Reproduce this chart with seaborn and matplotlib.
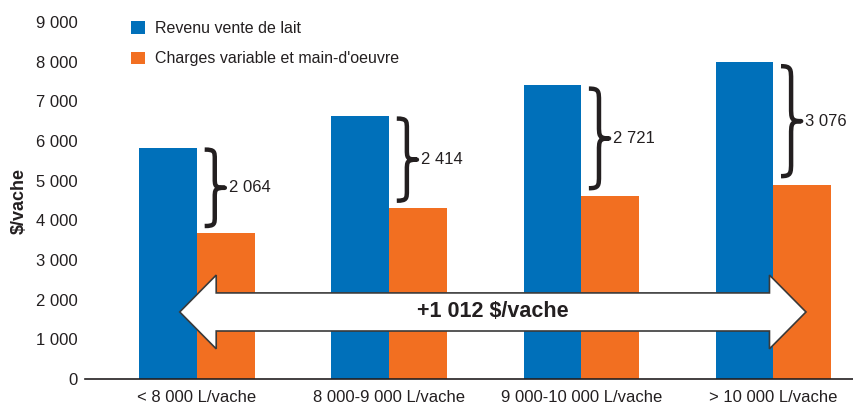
import matplotlib
matplotlib.use("Agg")
import matplotlib.pyplot as plt
import seaborn as sns
import pandas as pd
from matplotlib.path import Path
from matplotlib.patches import PathPatch, Polygon, Patch

categories = ["< 8 000 L/vache", "8 000-9 000 L/vache", "9 000-10 000 L/vache", "> 10 000 L/vache"]
revenu = [5830, 6620, 7400, 7980]
charges = [3690, 4320, 4610, 4900]
ecarts = ["2 064", "2 414", "2 721", "3 076"]
series = ["Revenu vente de lait", "Charges variable et main-d'oeuvre"]
yticks = [0, 1000, 2000, 3000, 4000, 5000, 6000, 7000, 8000, 9000]
ytick_labels = ["0", "1 000", "2 000", "3 000", "4 000", "5 000", "6 000", "7 000", "8 000", "9 000"]
arrow_label = "+1 012 $/vache"

BLUE = "#0070BA"
ORANGE = "#F26F21"
DARK = "#231F20"

sns.set_theme(style="white")
plt.rcParams["font.family"] = ["Liberation Sans Narrow", "Liberation Sans", "DejaVu Sans"]

df = pd.DataFrame({
    "cat": categories * 2,
    "val": revenu + charges,
    "serie": [series[0]] * 4 + [series[1]] * 4,
})

fig = plt.figure(figsize=(8.54, 4.05), dpi=100)
ax = fig.add_axes([85 / 854, 1 - 379 / 405, (854 - 85) / 854, (379 - 22) / 405])
sns.barplot(data=df, x="cat", y="val", hue="serie", palette=[BLUE, ORANGE],
            width=0.6, saturation=1, ax=ax, legend=False, errorbar=None,
            linewidth=0, edgecolor="none")

ax.set_xlim(-0.583, 3.42)
ax.set_ylim(0, 9000)
ax.set_yticks(yticks)
ax.set_yticklabels(ytick_labels, fontsize=12, color="#231F20")
ax.tick_params(axis="x", labelsize=12, colors="#231F20", length=0, pad=8)
ax.tick_params(axis="y", length=0, pad=5)
ax.set_xlabel("")
ax.set_ylabel("$/vache", fontsize=13, fontweight="bold", color="#231F20", labelpad=6)
for s in ["top", "right", "left"]:
    ax.spines[s].set_visible(False)
ax.spines["bottom"].set_color("#231F20")
ax.spines["bottom"].set_linewidth(1.2)


def brace(ax, x0, width, y0, y1, lw=3.2):
    xm = x0 + width * 0.5
    xr = x0 + width
    ym = (y0 + y1) / 2
    r = (y1 - y0) * 0.13
    verts = [
        (x0, y1),
        (xm, y1), (xm, y1 - r * 0.2), (xm, y1 - r),
        (xm, ym + r),
        (xm, ym + r * 0.2), (xm, ym), (xr, ym),
        (xm, ym), (xm, ym - r * 0.2), (xm, ym - r),
        (xm, y0 + r),
        (xm, y0 + r * 0.2), (xm, y0), (x0, y0),
    ]
    codes = [Path.MOVETO,
             Path.CURVE4, Path.CURVE4, Path.CURVE4,
             Path.LINETO,
             Path.CURVE4, Path.CURVE4, Path.CURVE4,
             Path.CURVE4, Path.CURVE4, Path.CURVE4,
             Path.LINETO,
             Path.CURVE4, Path.CURVE4, Path.CURVE4]
    ax.add_patch(PathPatch(Path(verts, codes), fill=False, lw=lw, color=DARK,
                           capstyle="butt", joinstyle="round", zorder=5))


for i, (rv, ch, lab) in enumerate(zip(revenu, charges, ecarts)):
    diff = rv - ch
    mid = (rv + ch) / 2 + 60
    h = diff * 0.9
    brace(ax, i + 0.04, 0.105, mid - h / 2, mid + h / 2)
    ax.text(i + 0.165, mid, lab, fontsize=12, color=DARK, va="center", ha="left")

# double-headed arrow
yc, sh, hh = 1690, 480, 930
xl, xlb, xrb, xr = -0.09, 0.10, 2.98, 3.17
arrow = Polygon([
    (xl, yc), (xlb, yc + hh), (xlb, yc + sh), (xrb, yc + sh), (xrb, yc + hh),
    (xr, yc), (xrb, yc - hh), (xrb, yc - sh), (xlb, yc - sh), (xlb, yc - hh)],
    closed=True, facecolor="white", edgecolor="#3a3a3a", lw=1.2, zorder=6)
ax.add_patch(arrow)
ax.text(1.54, yc, arrow_label, fontsize=15.5, fontweight="bold", color=DARK,
        ha="center", va="center", zorder=7)

handles = [Patch(facecolor=BLUE, edgecolor="none"), Patch(facecolor=ORANGE, edgecolor="none")]
leg = ax.legend(handles, series, loc="upper left", bbox_to_anchor=(0.052, 1.02),
                frameon=False, fontsize=11.5, handlelength=0.85, handleheight=0.85,
                handletextpad=0.6, labelspacing=0.95, borderaxespad=0.0)
for t in leg.get_texts():
    t.set_color(DARK)

fig.savefig("out.png", dpi=100)
